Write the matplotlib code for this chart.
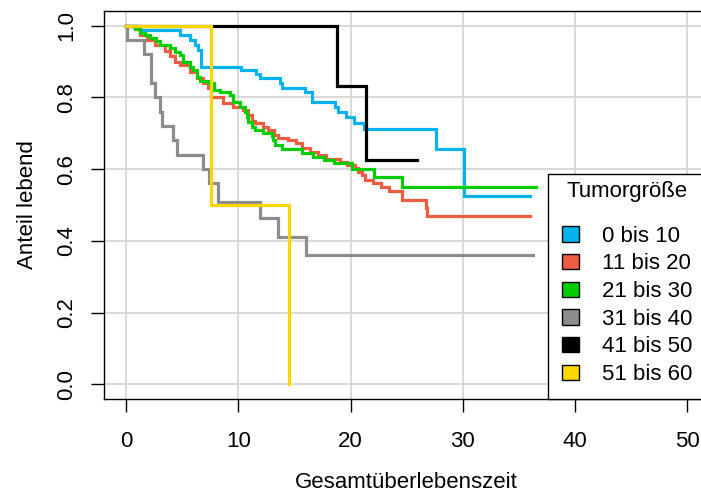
import matplotlib
matplotlib.use("Agg")
import matplotlib.pyplot as plt
from matplotlib.patches import Patch

plt.rcParams['font.family'] = ['Liberation Sans', 'DejaVu Sans']

groups = ["0 bis 10", "11 bis 20", "21 bis 30", "31 bis 40", "41 bis 50", "51 bis 60"]
colors = ["#00B2EE", "#EE5C42", "#00CD00", "#8C8C8C", "#000000", "#FFD700"]

# Kaplan-Meier estimates per tumour size group:
# step times, survival after each step, and end of follow-up
t_0_10 = [0, 1.2, 4.8, 5.7, 6.1, 6.4, 6.7, 10.2, 11.6, 11.9, 13.7, 13.9, 15.9, 16.6,
          18.6, 18.9, 19.6, 20.3, 21.2, 27.6, 30.1]
s_0_10 = [1.0, 0.988, 0.974, 0.960, 0.946, 0.932, 0.886, 0.876, 0.865, 0.853, 0.839,
          0.826, 0.816, 0.788, 0.773, 0.759, 0.745, 0.730, 0.711, 0.656, 0.525]
end_0_10 = 36.0

t_11_20 = [0, 0.8, 1.2, 1.9, 2.6, 3.5, 3.9, 4.35, 4.8, 5.7, 6.3, 6.85, 7.3, 7.55, 8.6,
           9.5, 10.4, 10.9, 11.2, 11.5, 12.2, 12.65, 13.2, 13.5, 14.4, 15.1, 15.7, 16.4,
           17.1, 17.8, 19.1, 19.7, 20.4, 20.7, 21.0, 21.3, 22.0, 22.7, 23.4, 24.6, 26.7, 26.8]
s_11_20 = [1.0, 0.99, 0.975, 0.96, 0.945, 0.93, 0.915, 0.90, 0.89, 0.87, 0.855, 0.84,
           0.825, 0.80, 0.784, 0.774, 0.765, 0.751, 0.735, 0.728, 0.718, 0.708, 0.695,
           0.688, 0.681, 0.672, 0.660, 0.649, 0.639, 0.628, 0.620, 0.611, 0.602, 0.593,
           0.584, 0.570, 0.561, 0.549, 0.540, 0.514, 0.491, 0.469]
end_11_20 = 36.0

t_21_30 = [0, 0.8, 1.2, 1.7, 2.1, 2.7, 3.0, 3.9, 4.35, 4.8, 5.1, 5.7, 6.0, 6.3, 6.6,
           7.3, 7.8, 8.4, 9.3, 9.55, 10.15, 10.6, 10.75, 10.9, 11.2, 11.5, 12.2, 13.0,
           13.1, 13.3, 13.9, 15.7, 16.7, 17.6, 18.5, 20.1, 22.05, 24.6]
s_21_30 = [1.0, 0.99, 0.98, 0.974, 0.965, 0.958, 0.946, 0.937, 0.928, 0.918, 0.90,
           0.886, 0.877, 0.858, 0.847, 0.839, 0.821, 0.816, 0.807, 0.788, 0.774, 0.760,
           0.746, 0.732, 0.718, 0.709, 0.700, 0.692, 0.681, 0.667, 0.655, 0.644, 0.635,
           0.625, 0.616, 0.600, 0.579, 0.551]
end_21_30 = 36.5

t_31_40 = [0, 0.1, 1.6, 2.2, 2.6, 3.0, 3.2, 4.2, 4.5, 6.9, 7.4, 8.2, 11.9, 13.5, 16.0]
s_31_40 = [1.0, 0.96, 0.92, 0.84, 0.80, 0.76, 0.72, 0.68, 0.64, 0.60, 0.56, 0.509,
           0.463, 0.412, 0.36]
end_31_40 = 36.3

t_41_50 = [0, 18.8, 21.4]
s_41_50 = [1.0, 0.833, 0.625]
end_41_50 = 25.9

t_51_60 = [0, 7.55, 14.5]
s_51_60 = [1.0, 0.5, 0.0]
end_51_60 = 14.5

curves = [
    (t_0_10, s_0_10, end_0_10),
    (t_11_20, s_11_20, end_11_20),
    (t_21_30, s_21_30, end_21_30),
    (t_31_40, s_31_40, end_31_40),
    (t_41_50, s_41_50, end_41_50),
    (t_51_60, s_51_60, end_51_60),
]

W, H = 701, 492
fig = plt.figure(figsize=(W / 100, H / 100), dpi=100)
ax_left, ax_right, ax_top, ax_bottom = 103.6, 709.7, 11.4, 398.6
ax = fig.add_axes([ax_left / W, (H - ax_bottom) / H,
                   (ax_right - ax_left) / W, (ax_bottom - ax_top) / H])

for (t, s, end), col in zip(curves, colors):
    ax.step(list(t) + [end], list(s) + [s[-1]], where='post', color=col, lw=2.3,
            solid_joinstyle='miter', zorder=3)

ax.set_xlim(-2.0, 52.0)
ax.set_ylim(-0.04, 1.04)
ax.set_xticks([0, 10, 20, 30, 40, 50])
ax.set_yticks([0.0, 0.2, 0.4, 0.6, 0.8, 1.0])
ax.set_yticklabels(["0.0", "0.2", "0.4", "0.6", "0.8", "1.0"], rotation=90, va='center')
ax.grid(True, color='#D3D3D3', lw=1.2)
ax.set_axisbelow(True)

for sp in ax.spines.values():
    sp.set_color('black')
    sp.set_linewidth(1.0)

ax.tick_params(axis='both', direction='out', length=9.4, width=1.0, labelsize=16,
               colors='black')
ax.tick_params(axis='x', pad=14)
ax.tick_params(axis='y', pad=9.5)

ax.set_xlabel("Gesamtüberlebenszeit", fontsize=16, labelpad=14.5)
ax.set_ylabel("Anteil lebend", fontsize=16, labelpad=13)

handles = [Patch(facecolor=c, edgecolor='black', linewidth=1.0) for c in colors]
leg = ax.legend(handles, groups, title="Tumorgröße", loc='lower left',
                bbox_to_anchor=((548 - ax_left) / (ax_right - ax_left), 0.0),
                borderaxespad=0, fontsize=16, title_fontsize=16, frameon=True,
                fancybox=False, edgecolor='black', framealpha=1.0, borderpad=0.3,
                handlelength=0.77, handleheight=0.68, handletextpad=1.04,
                labelspacing=0.30)
leg.get_frame().set_linewidth(1.0)
leg.set_zorder(5)
leg._legend_box.sep = 12.0
leg._legend_handle_box.pad = 5.0

fig.savefig("out.png", dpi=100)
